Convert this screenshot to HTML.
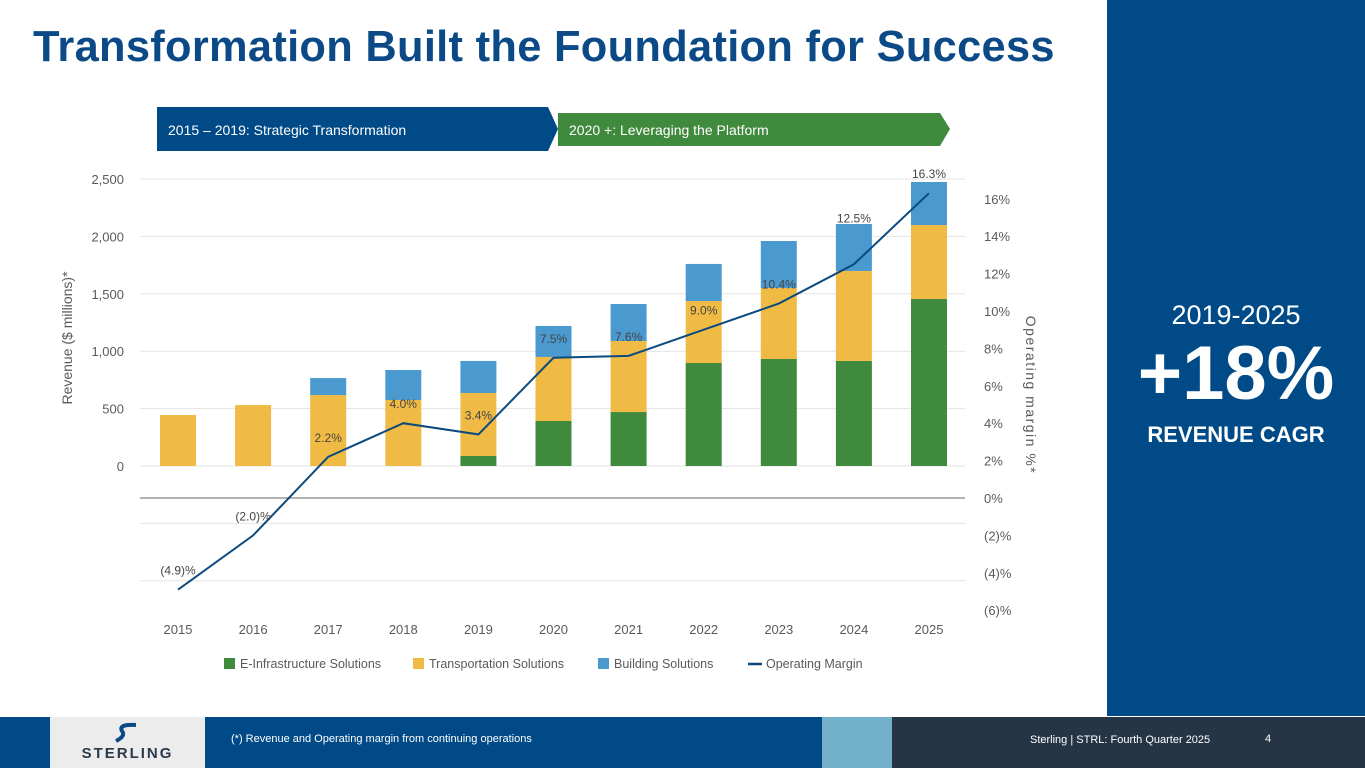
<!DOCTYPE html>
<html><head><meta charset="utf-8"><style>
body{margin:0;width:1365px;height:768px;overflow:hidden;background:#fff;font-family:"Liberation Sans",sans-serif;position:relative}
.abs{position:absolute}
</style></head><body>
<div class="abs" style="left:33px;top:23px;font-size:43.4px;font-weight:bold;color:#0b4a86;letter-spacing:0.3px">Transformation Built the Foundation for Success</div>
<div class="abs" style="left:1107px;top:0;width:258px;height:716px;background:#004a87"></div>
<div class="abs" style="left:1107px;top:300px;width:258px;text-align:center;color:#fff;font-size:27px">2019-2025</div>
<div class="abs" style="left:1107px;top:330px;width:258px;text-align:center;color:#fff;font-size:76px;font-weight:bold">+18%</div>
<div class="abs" style="left:1107px;top:422px;width:258px;text-align:center;color:#fff;font-size:22px;font-weight:bold">REVENUE CAGR</div>
<div class="abs" style="left:0;top:717px;width:822px;height:51px;background:#004a87"></div>
<div class="abs" style="left:822px;top:717px;width:70px;height:51px;background:#72b1c9"></div>
<div class="abs" style="left:892px;top:717px;width:473px;height:51px;background:#253545"></div>
<div class="abs" style="left:50px;top:717px;width:155px;height:51px;background:#ececec;text-align:center">
<svg width="40" height="22" style="margin-top:5px"><path d="M28 3 Q10 2 14 9 Q18 14 8 19" stroke="#0b4a86" stroke-width="4" fill="none"/></svg>
<div style="font-size:15px;font-weight:bold;color:#2a3a4a;letter-spacing:2px;margin-top:-4px">STERLING</div></div>
<div class="abs" style="left:231px;top:733px;color:#fff;font-size:11px">(*) Revenue and Operating margin from continuing operations</div>
<div class="abs" style="left:1030px;top:734px;color:#fff;font-size:11px">Sterling | STRL:  Fourth Quarter 2025</div>
<div class="abs" style="left:1265px;top:733px;color:#fff;font-size:11px">4</div>
<svg class="abs" style="left:0;top:0" width="1107" height="716" id="chart">
<polygon points="157,107 548,107 558,129 548,151 157,151" fill="#004a87"/>
<polygon points="558,113 940,113 950,129 940,146 558,146" fill="#3f8a3d"/>
<text x="168" y="135" fill="#fff" font-size="14">2015 – 2019: Strategic Transformation</text>
<text x="569" y="135" fill="#fff" font-size="14">2020 +: Leveraging the Platform</text>
<text transform="translate(72,338) rotate(-90)" text-anchor="middle" font-size="14" fill="#5a5a5a">Revenue ($ millions)*</text>
<text transform="translate(1026,395) rotate(90)" text-anchor="middle" font-size="14" fill="#5a5a5a" letter-spacing="1.5">Operating margin %*</text>
</svg>
<script>
const years=['2015','2016','2017','2018','2019','2020','2021','2022','2023','2024','2025'];
const eInfra=[0,0,0,0,87,392,470,897,932,915,1455];
const transport=[444,531,618,575,549,558,619,540,619,784,644];
const building=[0,0,148,261,279,270,322,323,409,409,375];
const margin=[-4.9,-2.0,2.2,4.0,3.4,7.5,7.6,9.0,10.4,12.5,16.3];
const marginLabels=['(4.9)%','(2.0)%','2.2%','4.0%','3.4%','7.5%','7.6%','9.0%','10.4%','12.5%','16.3%'];
const leftTicks=[0,500,1000,1500,2000,2500];
const extraGrid=[-500,-1000];
const rightTicks=[-6,-4,-2,0,2,4,6,8,10,12,14,16];
const rightTickLabels=['(6)%','(4)%','(2)%','0%','2%','4%','6%','8%','10%','12%','14%','16%'];
const svg=document.getElementById('chart');
const NS='http://www.w3.org/2000/svg';
const yL=v=>466-v*(287/2500);
const yR=m=>498-m*18.7;
const xC=i=>178+i*75.1;
function mk(t,a,txt){const e=document.createElementNS(NS,t);for(const k in a)e.setAttribute(k,a[k]);if(txt!==undefined)e.textContent=txt;svg.appendChild(e);return e;}
leftTicks.forEach(v=>{
 const g=mk('line',{x1:140,x2:965,y1:yL(v),y2:yL(v),stroke:'#e3e3e3','stroke-width':1});
 
 
 const t=mk('text',{x:124,y:yL(v)+5,'text-anchor':'end','font-size':13,fill:'#5a5a5a'},v.toLocaleString('en-US'));
 
 
});
extraGrid.forEach(v=>{
 const g=mk('line',{x1:140,x2:965,y1:yL(v),y2:yL(v),stroke:'#e3e3e3','stroke-width':1});
 
 
});
const z=mk('line',{x1:140,x2:965,y1:yR(0),y2:yR(0),stroke:'#666','stroke-width':1});


rightTicks.forEach((m,i)=>{
 const t=mk('text',{x:984,y:yR(m)+5,'font-size':13,fill:'#5a5a5a'},rightTickLabels[i]);
 
 
});
years.forEach((y,i)=>{
 const x=xC(i)-18;
 let base=0;
 [[eInfra,'#3f8a3d','bar-e-infrastructure'],[transport,'#f0bb45','bar-transportation'],[building,'#4a9ad0','bar-building']].forEach(([arr,c,n])=>{
  const v=arr[i];
  if(v>0){const r=mk('rect',{x:x,y:yL(base+v),width:36,height:yL(base)-yL(base+v),fill:c});
  
  }
  base+=v;
 });
 const t=mk('text',{x:xC(i),y:634,'text-anchor':'middle','font-size':13,fill:'#5a5a5a'},y);
 
 
});
const pl=mk('polyline',{points:margin.map((m,i)=>xC(i)+','+yR(m)).join(' '),fill:'none',stroke:'#0b4a7e','stroke-width':2});


margin.forEach((m,i)=>{
 const dy=(i===9)?-42:-15;
 const t=mk('text',{x:xC(i),y:yR(m)+dy,'text-anchor':'middle','font-size':12,fill:'#444'},marginLabels[i]);
 
 
});
const leg=[['rect','#3f8a3d','E-Infrastructure Solutions',224],['rect','#f0bb45','Transportation Solutions',413],['rect','#4a9ad0','Building Solutions',598],['line','#0b4a7e','Operating Margin',748]];
leg.forEach(([k,c,l,x])=>{
 let m;
 if(k==='rect')m=mk('rect',{x:x,y:658,width:11,height:11,fill:c});
 else m=mk('line',{x1:x,x2:x+14,y1:664,y2:664,stroke:c,'stroke-width':2.5});
 
 
 const t=mk('text',{x:x+(k==='rect'?16:18),y:668,'font-size':12.5,fill:'#5a5a5a'},l);
 
 
});
</script>
</body></html>
